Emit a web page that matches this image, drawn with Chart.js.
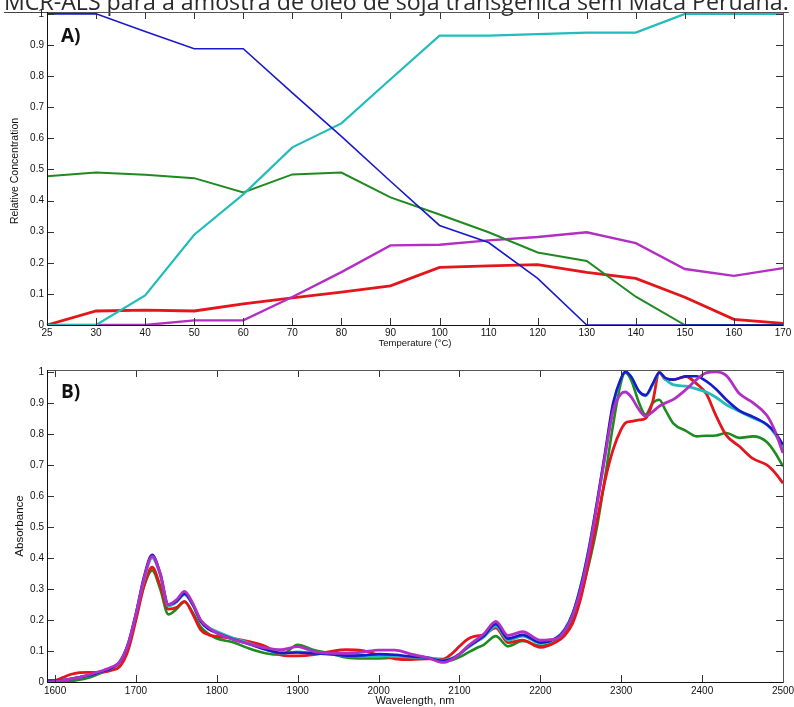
<!DOCTYPE html>
<html>
<head>
<meta charset="utf-8">
<script src="https://cdn.jsdelivr.net/npm/chart.js@4.4.1/dist/chart.umd.min.js"></script>
<style>
  body { margin: 0; background: #fff; }
  .panel { position: absolute; left: 0; }
</style>
</head>
<body>
<div class="panel" style="top:0"><canvas id="chartA" width="794" height="350"></canvas></div>
<div class="panel" style="top:350px"><canvas id="chartB" width="794" height="357"></canvas></div>
<script>
// Panel A: relative concentration vs temperature
const tempLabels = ['25', '30', '40', '50', '60', '70', '80', '90', '100', '110', '120', '130', '140', '150', '160', '170'];
const concBlue   = [1.0, 1.0, 0.943, 0.888, 0.888, 0.746, 0.606, 0.462, 0.32, 0.265, 0.15, 0, 0, 0, 0, 0];
const concCyan   = [0, 0, 0.095, 0.29, 0.42, 0.571, 0.648, 0.79, 0.93, 0.93, 0.935, 0.94, 0.94, 1.0, 1.0, 1.0];
const concGreen  = [0.478, 0.49, 0.483, 0.472, 0.426, 0.484, 0.49, 0.41, 0.355, 0.298, 0.233, 0.206, 0.091, 0, 0, 0];
const concPurple = [0, 0, 0, 0.015, 0.015, 0.09, 0.17, 0.256, 0.258, 0.272, 0.283, 0.298, 0.263, 0.18, 0.158, 0.183];
const concRed    = [0, 0.045, 0.048, 0.045, 0.068, 0.087, 0.106, 0.126, 0.185, 0.19, 0.194, 0.169, 0.15, 0.089, 0.018, 0.005];

// Panel B: spectra (absorbance vs wavelength)
const wavelengths = [1590, 1600, 1610, 1620, 1630, 1640, 1650, 1660, 1670, 1680, 1690, 1700, 1710, 1720, 1730, 1740, 1750, 1760, 1770, 1780, 1790, 1800,
  1820, 1840, 1860, 1880, 1900, 1920, 1940, 1960, 1980, 2000, 2020, 2040, 2060, 2080, 2090, 2100, 2110, 2120, 2130, 2145, 2160, 2178, 2200,
  2220, 2230, 2240, 2250, 2260, 2270, 2280, 2290, 2300, 2305, 2312, 2322, 2330, 2339, 2347, 2355, 2365, 2380, 2393, 2405, 2417, 2430, 2446,
  2463, 2480, 2490, 2500];
const absBlue = [0.005, 0.005, 0.006, 0.01, 0.015, 0.02, 0.027, 0.035, 0.045, 0.065, 0.12, 0.22, 0.34, 0.41, 0.35, 0.25, 0.26, 0.285, 0.25, 0.195, 0.17, 0.158,
  0.138, 0.122, 0.105, 0.094, 0.095, 0.092, 0.09, 0.085, 0.086, 0.09, 0.088, 0.082, 0.078, 0.068, 0.074, 0.09, 0.112, 0.13, 0.148, 0.187, 0.14, 0.152, 0.127,
  0.142, 0.168, 0.22, 0.31, 0.43, 0.58, 0.74, 0.9, 0.98, 1.0, 0.985, 0.937, 0.925, 0.962, 0.997, 0.98, 0.975, 0.986, 0.986, 0.97, 0.945, 0.91, 0.875,
  0.855, 0.83, 0.805, 0.765];
const absCyan = [0.005, 0.005, 0.006, 0.01, 0.015, 0.02, 0.027, 0.035, 0.045, 0.065, 0.12, 0.22, 0.33, 0.40, 0.345, 0.245, 0.258, 0.282, 0.25, 0.198, 0.175, 0.163,
  0.142, 0.125, 0.106, 0.093, 0.097, 0.093, 0.09, 0.084, 0.084, 0.084, 0.083, 0.08, 0.079, 0.07, 0.076, 0.09, 0.11, 0.128, 0.145, 0.18, 0.135, 0.148, 0.125,
  0.143, 0.17, 0.222, 0.31, 0.43, 0.575, 0.73, 0.89, 0.98, 1.0, 0.985, 0.937, 0.923, 0.959, 0.997, 0.975, 0.958, 0.954, 0.945, 0.935, 0.918, 0.894, 0.873,
  0.851, 0.83, 0.8, 0.754];
const absGreen = [0, 0, 0.001, 0.003, 0.007, 0.013, 0.022, 0.033, 0.045, 0.063, 0.115, 0.21, 0.31, 0.36, 0.30, 0.218, 0.235, 0.258, 0.225, 0.178, 0.155, 0.14,
  0.128, 0.108, 0.093, 0.088, 0.12, 0.103, 0.092, 0.079, 0.076, 0.076, 0.078, 0.08, 0.078, 0.066, 0.07, 0.08, 0.094, 0.108, 0.12, 0.148, 0.115, 0.132, 0.117,
  0.132, 0.155, 0.2, 0.28, 0.38, 0.5, 0.66, 0.83, 0.97, 0.997, 0.975, 0.9, 0.862, 0.9, 0.91, 0.875, 0.832, 0.81, 0.792, 0.794, 0.795, 0.803, 0.787,
  0.792, 0.774, 0.74, 0.695];
const absPurple = [0, 0.002, 0.005, 0.01, 0.015, 0.022, 0.03, 0.038, 0.048, 0.065, 0.12, 0.22, 0.335, 0.405, 0.35, 0.25, 0.265, 0.292, 0.255, 0.2, 0.175, 0.158,
  0.137, 0.123, 0.11, 0.104, 0.114, 0.098, 0.093, 0.092, 0.096, 0.103, 0.103, 0.09, 0.079, 0.063, 0.072, 0.09, 0.115, 0.135, 0.155, 0.195, 0.15, 0.162, 0.135,
  0.14, 0.165, 0.215, 0.3, 0.42, 0.57, 0.73, 0.875, 0.93, 0.935, 0.92, 0.878, 0.857, 0.872, 0.889, 0.9, 0.912, 0.943, 0.975, 0.997, 1.0, 0.988, 0.93,
  0.9, 0.86, 0.81, 0.738];
const absRed = [0, 0.005, 0.015, 0.025, 0.03, 0.031, 0.031, 0.032, 0.038, 0.05, 0.1, 0.2, 0.31, 0.37, 0.31, 0.235, 0.24, 0.26, 0.22, 0.168, 0.152, 0.147,
  0.141, 0.13, 0.115, 0.087, 0.084, 0.088, 0.098, 0.104, 0.101, 0.087, 0.075, 0.072, 0.075, 0.074, 0.09, 0.115, 0.138, 0.148, 0.152, 0.175, 0.127, 0.135, 0.112,
  0.13, 0.15, 0.19, 0.27, 0.39, 0.52, 0.65, 0.75, 0.815, 0.835, 0.84, 0.845, 0.85, 0.905, 1.0, 0.975, 0.975, 0.985, 0.962, 0.93, 0.86, 0.795, 0.76,
  0.72, 0.7, 0.675, 0.641];

const unitTicks = [0, 0.1, 0.2, 0.3, 0.4, 0.5, 0.6, 0.7, 0.8, 0.9, 1];
const waveTicks = [1600, 1700, 1800, 1900, 2000, 2100, 2200, 2300, 2400, 2500];

const COLORS = { blue: '#1a1acd', cyan: '#22bcbc', green: '#1f8a1f', purple: '#b32fc4', red: '#e3161b' };
const TICK_FONT = { family: 'Liberation Sans, Arial, sans-serif', size: 10 };
const TEXT = '#111';

function unitLabel(v) {
  if (v === 0) return '0';
  if (v === 1) return '1';
  return v.toFixed(1);
}

// inward ticks on all four sides plus the box, MATLAB style
function frameTicksPlugin(extra) {
  return {
    id: 'frameTicks',
    beforeDraw(chart) {
      if (extra.before) extra.before(chart.ctx, chart);
    },
    afterDraw(chart) {
      const ctx = chart.ctx;
      const { left, right, top, bottom } = chart.chartArea;
      const xs = chart.scales.x;
      const ys = chart.scales.y;
      const len = 7;
      ctx.save();
      ctx.strokeStyle = '#333';
      ctx.lineWidth = 1;
      ctx.beginPath();
      xs.ticks.forEach((t, i) => {
        const px = Math.round(xs.getPixelForTick(i)) + 0.5;
        ctx.moveTo(px, bottom); ctx.lineTo(px, bottom - len);
        ctx.moveTo(px, top); ctx.lineTo(px, top + len);
      });
      ys.ticks.forEach((t, i) => {
        const py = Math.round(ys.getPixelForTick(i)) + 0.5;
        ctx.moveTo(left, py); ctx.lineTo(left + len, py);
        ctx.moveTo(right, py); ctx.lineTo(right - len, py);
      });
      ctx.stroke();
      ctx.strokeStyle = '#555';
      ctx.strokeRect(Math.round(left) + 0.5, Math.round(top) + 0.5, Math.round(right - left), Math.round(bottom - top));
      ctx.strokeStyle = '#111';
      ctx.beginPath();
      ctx.moveTo(Math.round(left) + 0.5, top);
      ctx.lineTo(Math.round(left) + 0.5, Math.round(bottom) + 0.5);
      ctx.lineTo(right, Math.round(bottom) + 0.5);
      ctx.stroke();

      // axis titles and panel letter
      ctx.fillStyle = TEXT;
      ctx.textAlign = 'center';
      ctx.textBaseline = 'middle';
      ctx.font = extra.yTitleFont;
      ctx.save();
      ctx.translate(extra.yTitlePos[0], extra.yTitlePos[1]);
      ctx.rotate(-Math.PI / 2);
      ctx.fillText(extra.yTitle, 0, 0);
      ctx.restore();
      ctx.font = extra.xTitleFont;
      ctx.fillText(extra.xTitle, (left + right) / 2, extra.xTitleY);
      ctx.textAlign = 'left';
      ctx.font = 'bold 19px "Open Sans", "Liberation Sans", sans-serif';
      ctx.fillStyle = '#111';
      ctx.fillText(extra.letter, 61, extra.letterY);
      ctx.restore();
    }
  };
}

function drawPageTitle(ctx) {
  const text = 'MCR-ALS para a amostra de óleo de soja transgênica sem Maca Peruana.';
  const family = '"Open Sans", "Liberation Sans", sans-serif';
  ctx.save();
  ctx.font = '100px ' + family;
  const size = 100 * 785 / ctx.measureText(text).width;
  ctx.font = size.toFixed(2) + 'px ' + family;
  ctx.fillStyle = '#2a2a2a';
  ctx.textAlign = 'left';
  ctx.textBaseline = 'alphabetic';
  ctx.fillText(text, 4, 10);
  const w = ctx.measureText(text).width;
  ctx.strokeStyle = '#444';
  ctx.lineWidth = 1;
  ctx.beginPath();
  ctx.moveTo(4, 12.5); ctx.lineTo(4 + w, 12.5);
  ctx.stroke();
  ctx.restore();
}

function lineSet(label, data, color, width, order) {
  return {
    label, data, borderColor: color, backgroundColor: color, borderWidth: width,
    pointRadius: 0, fill: false, order
  };
}

const yScaleBase = {
  min: 0, max: 1.006,
  grid: { display: false, drawTicks: false },
  border: { display: false },
  afterBuildTicks(s) { s.ticks = unitTicks.map(v => ({ value: v })); },
  afterFit(s) { s.width = 47; s.paddingTop = 0; s.paddingBottom = 0; },
  ticks: { padding: 3, color: TEXT, font: TICK_FONT, callback: unitLabel }
};

new Chart(document.getElementById('chartA'), {
  type: 'line',
  data: {
    labels: tempLabels,
    datasets: [
      lineSet('Blue', concBlue, COLORS.blue, 1.6, 0),
      lineSet('Cyan', concCyan, COLORS.cyan, 2.2, 1),
      lineSet('Green', concGreen, COLORS.green, 2, 2),
      lineSet('Purple', concPurple, COLORS.purple, 2.4, 3),
      lineSet('Red', concRed, COLORS.red, 2.8, 4)
    ]
  },
  options: {
    responsive: false,
    animation: false,
    layout: { padding: { left: 0, right: 11, top: 12, bottom: 0 } },
    elements: { line: { tension: 0 } },
    plugins: { legend: { display: false }, tooltip: { enabled: false } },
    scales: {
      x: {
        type: 'category', offset: false,
        grid: { display: false, drawTicks: false },
        border: { display: false },
        afterFit(s) { s.height = 25; s.paddingLeft = 0; s.paddingRight = 0; },
        ticks: { autoSkip: false, maxRotation: 0, padding: 2, color: TEXT, font: TICK_FONT }
      },
      y: yScaleBase
    }
  },
  plugins: [frameTicksPlugin({
    before: drawPageTitle,
    yTitle: 'Relative Concentration', yTitlePos: [15, 171], yTitleFont: '10.5px "Liberation Sans", Arial, sans-serif',
    xTitle: 'Temperature (°C)', xTitleY: 343, xTitleFont: '9.5px "Liberation Sans", Arial, sans-serif',
    letter: 'A)', letterY: 37
  })]
});

const pts = s => wavelengths.map((w, i) => ({ x: w, y: s[i] }));

new Chart(document.getElementById('chartB'), {
  type: 'line',
  data: {
    datasets: [
      lineSet('Purple', pts(absPurple), COLORS.purple, 2.8, 0),
      lineSet('Blue', pts(absBlue), COLORS.blue, 2.6, 1),
      lineSet('Cyan', pts(absCyan), COLORS.cyan, 2.8, 2),
      lineSet('Red', pts(absRed), COLORS.red, 2.8, 3),
      lineSet('Green', pts(absGreen), COLORS.green, 2.6, 4)
    ]
  },
  options: {
    responsive: false,
    animation: false,
    layout: { padding: { left: 0, right: 11, top: 20, bottom: 0 } },
    elements: { line: { tension: 0.4, cubicInterpolationMode: 'monotone' } },
    plugins: { legend: { display: false }, tooltip: { enabled: false } },
    scales: {
      x: {
        type: 'linear', min: 1590, max: 2500,
        grid: { display: false, drawTicks: false },
        border: { display: false },
        afterBuildTicks(s) { s.ticks = waveTicks.map(v => ({ value: v })); },
        afterFit(s) { s.height = 25; s.paddingLeft = 0; s.paddingRight = 0; },
        ticks: { autoSkip: false, maxRotation: 0, padding: 3, color: TEXT, font: TICK_FONT, callback: v => String(v) }
      },
      y: yScaleBase
    }
  },
  plugins: [frameTicksPlugin({
    yTitle: 'Absorbance', yTitlePos: [20, 176], yTitleFont: '11.5px "Liberation Sans", Arial, sans-serif',
    xTitle: 'Wavelength, nm', xTitleY: 351, xTitleFont: '11px "Liberation Sans", Arial, sans-serif',
    letter: 'B)', letterY: 43
  })]
});
</script>
</body>
</html>
